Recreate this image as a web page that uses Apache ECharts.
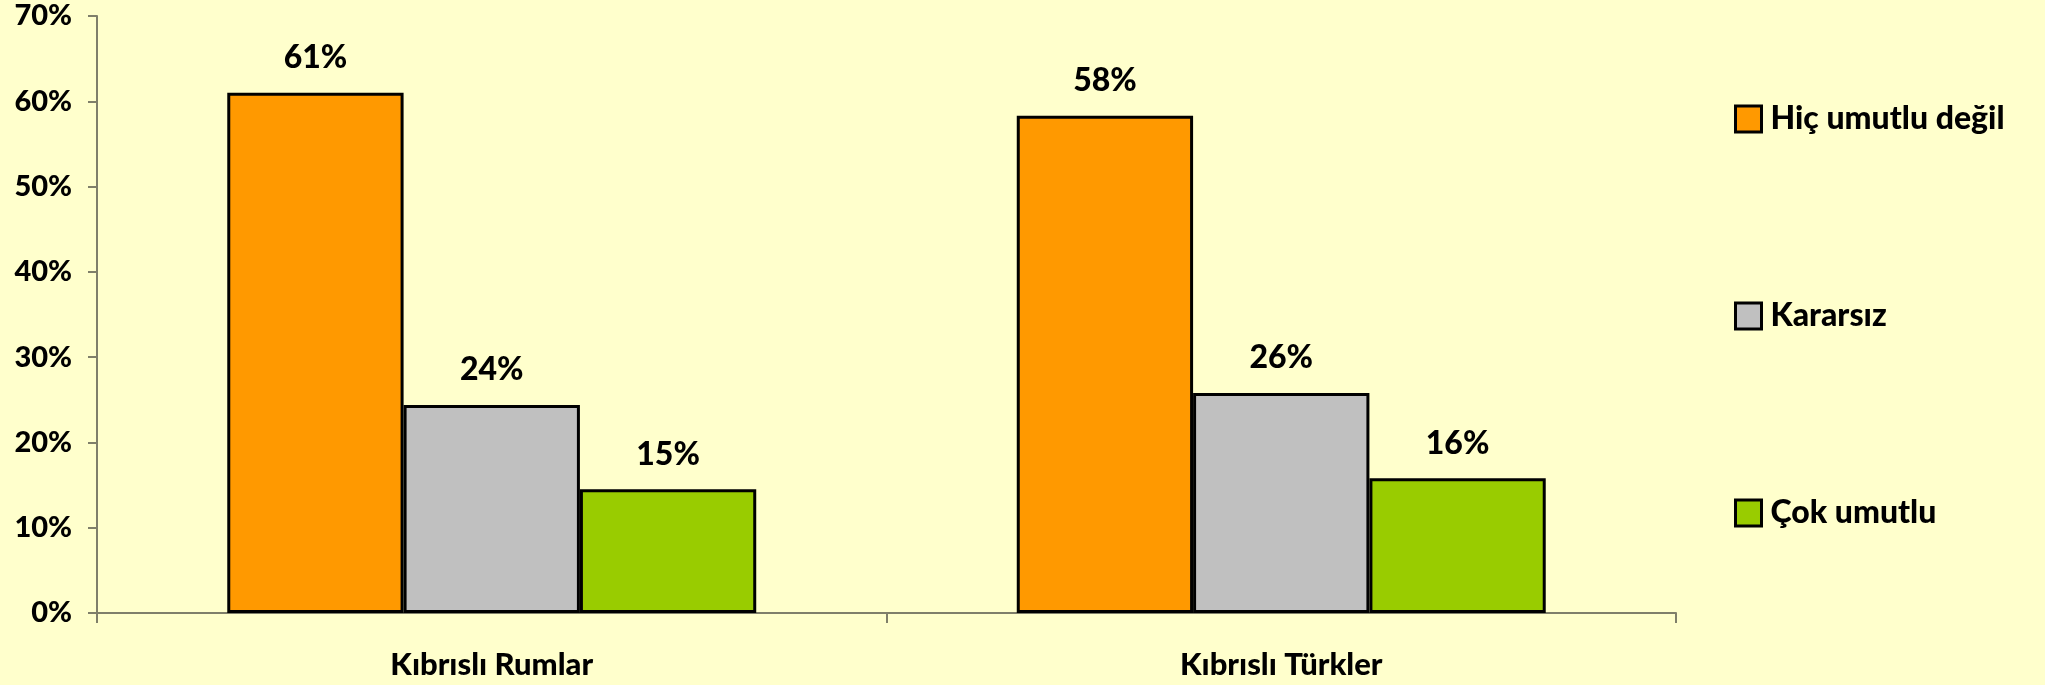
<!DOCTYPE html>
<html>
<head>
<meta charset="utf-8">
<script src="https://cdn.jsdelivr.net/npm/echarts@6/dist/echarts.min.js"></script>
<style>
  html, body { margin: 0; padding: 0; background: #FFFFCC; }
  #chart { width: 2045px; height: 685px; }
</style>
</head>
<body>
<div id="chart"></div>
<script>
// 数据
const categories = ['Kıbrıslı Rumlar', 'Kıbrıslı Türkler']
const seriesNames = ['Hiç umutlu değil', 'Kararsız', 'Çok umutlu']
const hicUmutluDegil = [61, 58.3]
const kararsiz = [24.4, 25.8]
const cokUmutlu = [14.5, 15.8]
// 图上显示的标签文字
const hicLabels = ['61%', '58%']
const kararsizLabels = ['24%', '26%']
const cokLabels = ['15%', '16%']
const yTicks = [0, 10, 20, 30, 40, 50, 60, 70]

const FONT = 'Lato'
const WEIGHT = 900
const colors = ['#FF9900', '#C0C0C0', '#99CC00']

const chart = echarts.init(document.getElementById('chart'))

function makeSeries(name, values, labels, color) {
  return {
    name: name,
    type: 'bar',
    barGap: '0%',
    barCategoryGap: '33%',
    itemStyle: {
      color: color,
      borderColor: '#000',
      borderWidth: 3
    },
    label: {
      show: true,
      position: 'top',
      distance: 19,
      color: '#000',
      fontFamily: FONT,
      fontWeight: WEIGHT,
      fontSize: 32,
      formatter: (p) => labels[p.dataIndex]
    },
    data: values
  }
}

const option = {
  backgroundColor: '#FFFFCC',
  animation: false,
  color: colors,
  grid: {
    left: 97,
    right: 369,
    top: 16,
    bottom: 72,
    containLabel: false
  },
  legend: {
    orient: 'vertical',
    left: 1729,
    top: 98,
    icon: 'rect',
    itemWidth: 26,
    itemHeight: 26,
    itemGap: 165,
    data: seriesNames,
    itemStyle: { borderColor: '#000', borderWidth: 3 },
    textStyle: {
      color: '#000',
      fontFamily: FONT,
      fontWeight: WEIGHT,
      fontSize: 32,
      padding: [0, 0, 0, 4]
    }
  },
  xAxis: {
    type: 'category',
    data: categories,
    axisLine: { show: true, lineStyle: { color: '#7F7F6A', width: 2 } },
    axisTick: { show: true, length: 10, lineStyle: { color: '#7F7F6A', width: 2 } },
    axisLabel: {
      color: '#000',
      fontFamily: FONT,
      fontWeight: WEIGHT,
      fontSize: 31,
      margin: 36
    }
  },
  yAxis: {
    type: 'value',
    min: 0,
    max: 70,
    interval: 10,
    axisLine: { show: true, lineStyle: { color: '#7F7F6A', width: 2 } },
    axisTick: { show: true, length: 9, lineStyle: { color: '#7F7F6A', width: 2 } },
    splitLine: { show: false },
    axisLabel: {
      color: '#000',
      fontFamily: FONT,
      fontWeight: WEIGHT,
      fontSize: 29,
      margin: 25,
      formatter: (v) => yTicks.includes(v) ? v + '%' : ''
    }
  },
  series: [
    makeSeries(seriesNames[0], hicUmutluDegil, hicLabels, colors[0]),
    makeSeries(seriesNames[1], kararsiz, kararsizLabels, colors[1]),
    makeSeries(seriesNames[2], cokUmutlu, cokLabels, colors[2])
  ]
}

chart.setOption(option)
</script>
</body>
</html>
